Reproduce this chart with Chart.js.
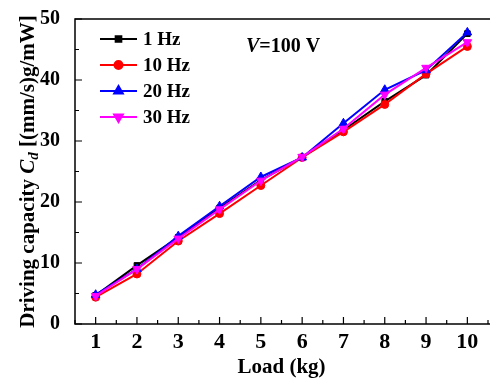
<!DOCTYPE html>
<html>
<head>
<meta charset="utf-8">
<script src="https://cdn.jsdelivr.net/npm/chart.js@4/dist/chart.umd.min.js"></script>
<style>
	body { margin: 0; overflow: hidden; background: #fff; }
	canvas { display: block; }
</style>
</head>
<body>
<canvas id="c-chart" width="494" height="381"></canvas>
<script>
var loads = [1, 2, 3, 4, 5, 6, 7, 8, 9, 10];
var hz1 = [4.7, 9.6, 14.2, 19.0, 23.6, 27.3, 31.8, 36.5, 40.8, 47.6];
var hz10 = [4.4, 8.2, 13.6, 18.1, 22.7, 27.3, 31.5, 36.0, 41.0, 45.5];
var hz20 = [4.8, 9.0, 14.4, 19.3, 24.1, 27.3, 32.9, 38.4, 41.6, 47.8];
var hz30 = [4.6, 9.0, 14.0, 18.8, 23.5, 27.4, 32.0, 37.6, 42.0, 46.2];
var labels = ['1 Hz', '10 Hz', '20 Hz', '30 Hz'];
var xTicks = [1, 2, 3, 4, 5, 6, 7, 8, 9, 10];
var yTicks = [0, 10, 20, 30, 40, 50];

var serif = '"Liberation Serif", "Times New Roman", serif';

function points(vals) {
	return loads.map(function (x, i) { return { x: x, y: vals[i] }; });
}

function series(label, vals, color, style, radius, rotation, order) {
	return {
		label: label,
		data: points(vals),
		borderColor: color,
		backgroundColor: color,
		borderWidth: 2,
		pointStyle: style,
		pointRadius: radius,
		pointRotation: rotation,
		pointBorderWidth: 1,
		order: order
	};
}

// frame, inward ticks, legend and the rich text titles
var decor = {
	id: 'decor',
	afterDatasetsDraw: function (chart) {
		var ctx = chart.ctx;
		var a = chart.chartArea;
		var xs = chart.scales.x;
		var ys = chart.scales.y;
		ctx.save();
		ctx.strokeStyle = '#000';
		ctx.lineWidth = 1.5;
		// right side falls outside the picture, so only three sides
		ctx.beginPath();
		ctx.moveTo(a.right + 2, a.top);
		ctx.lineTo(a.left, a.top);
		ctx.lineTo(a.left, a.bottom);
		ctx.lineTo(a.right + 2, a.bottom);
		ctx.stroke();

		ctx.lineWidth = 1.2;
		ctx.beginPath();
		for (var v = 0.5; v <= 10.5; v += 0.5) {
			var px = xs.getPixelForValue(v);
			var len = (v % 1 === 0) ? 7 : 4;
			ctx.moveTo(px, a.bottom);
			ctx.lineTo(px, a.bottom - len);
		}
		for (var w = 0; w <= 50; w += 5) {
			var py = ys.getPixelForValue(w);
			var l2 = (w % 10 === 0) ? 7 : 4;
			ctx.moveTo(a.left, py);
			ctx.lineTo(a.left + l2, py);
		}
		ctx.stroke();

		// legend
		ctx.font = 'bold 19px ' + serif;
		ctx.textBaseline = 'middle';
		ctx.textAlign = 'left';
		chart.data.datasets.forEach(function (ds, i) {
			var y = 39 + i * 26;
			ctx.strokeStyle = ds.borderColor;
			ctx.lineWidth = 2;
			ctx.beginPath();
			ctx.moveTo(100, y);
			ctx.lineTo(137, y);
			ctx.stroke();
			ctx.fillStyle = ds.backgroundColor;
			Chart.helpers.drawPoint(ctx, {
				pointStyle: ds.pointStyle,
				radius: ds.pointRadius,
				rotation: ds.pointRotation,
				borderWidth: 1
			}, 118.5, y);
			ctx.fillStyle = '#000';
			ctx.fillText(ds.label, 143, y + 1);
		});

		// V=100 V
		ctx.textBaseline = 'alphabetic';
		ctx.font = 'italic bold 20px ' + serif;
		ctx.fillText('V', 246, 52);
		var vw = ctx.measureText('V').width;
		ctx.font = 'bold 20px ' + serif;
		ctx.fillText('=100 V', 246 + vw, 52);

		// y axis title
		var parts = [
			{ t: 'Driving capacity ', f: 'bold 21px ' + serif, dy: 0 },
			{ t: 'C', f: 'italic bold 21px ' + serif, dy: 0 },
			{ t: 'd', f: 'italic bold 15px ' + serif, dy: 4 },
			{ t: ' [(mm/s)g/mW]', f: 'bold 21px ' + serif, dy: 0 }
		];
		var total = 0;
		parts.forEach(function (p) { ctx.font = p.f; total += ctx.measureText(p.t).width; });
		ctx.translate(34, (a.top + a.bottom) / 2);
		ctx.rotate(-Math.PI / 2);
		var cx = -total / 2;
		parts.forEach(function (p) {
			ctx.font = p.f;
			ctx.fillText(p.t, cx, p.dy);
			cx += ctx.measureText(p.t).width;
		});
		ctx.restore();
	}
};

var cChart = new Chart(document.getElementById('c-chart'), {
	type: 'line',
	data: {
		datasets: [
			series(labels[0], hz1, '#000000', 'rect', 4, 0, 3),
			series(labels[1], hz10, '#ff0000', 'circle', 4, 0, 2),
			series(labels[2], hz20, '#0000ff', 'triangle', 5, 0, 1),
			series(labels[3], hz30, '#ff00ff', 'triangle', 5, 180, 0)
		]
	},
	options: {
		responsive: false,
		animation: false,
		layout: { padding: { top: 16, right: 2, left: 0, bottom: 0 } },
		plugins: { legend: { display: false }, tooltip: { enabled: false } },
		scales: {
			x: {
				type: 'linear',
				min: 0.5,
				max: 10.5,
				afterBuildTicks: function (s) { s.ticks = xTicks.map(function (v) { return { value: v }; }); },
				afterFit: function (s) { s.height = 57; },
				grid: { display: false },
				border: { display: false },
				ticks: { color: '#000', padding: -3, maxRotation: 0, font: { family: serif, size: 22, weight: 'bold' } },
				title: { display: true, text: 'Load (kg)', color: '#000', padding: { top: 0, bottom: 1 }, font: { family: serif, size: 21, weight: 'bold' } }
			},
			y: {
				min: 0,
				max: 50,
				afterBuildTicks: function (s) { s.ticks = yTicks.map(function (v) { return { value: v }; }); },
				afterFit: function (s) { s.width = 75; },
				grid: { display: false },
				border: { display: false },
				ticks: { color: '#000', padding: 7, font: { family: serif, size: 20, weight: 'bold' } }
			}
		}
	},
	plugins: [decor]
});
</script>
</body>
</html>
